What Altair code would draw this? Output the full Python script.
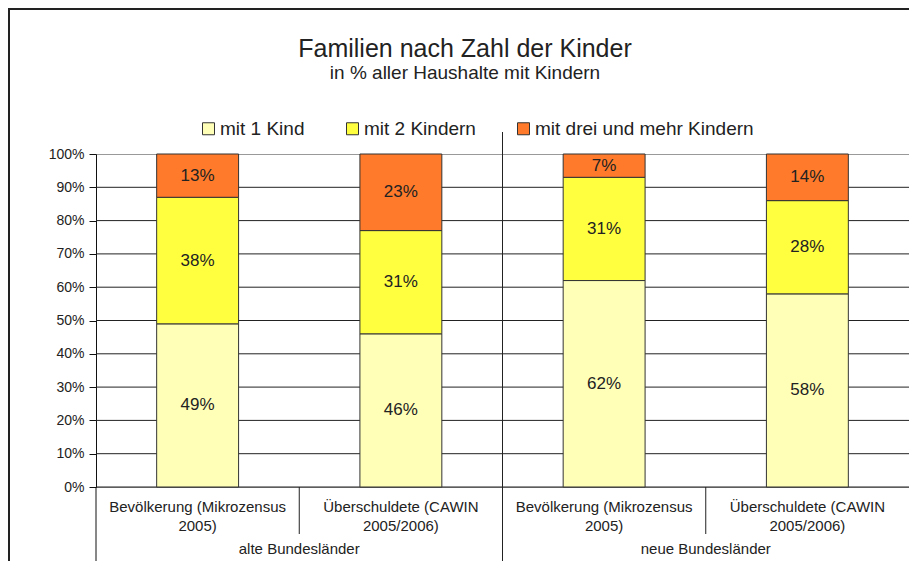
import altair as alt
import pandas as pd

FONT = "Liberation Sans"

# ---- data ----
group_labels = ["alte Bundesländer", "neue Bundesländer"]
group_pos = [1, 3]
cat_keys = ["alt_bev", "alt_ueb", "neu_bev", "neu_ueb"]
cat_labels = [
    "Bevölkerung (Mikrozensus\n2005)",
    "Überschuldete (CAWIN\n2005/2006)",
    "Bevölkerung (Mikrozensus\n2005)",
    "Überschuldete (CAWIN\n2005/2006)",
]
series = ["mit 1 Kind", "mit 2 Kindern", "mit drei und mehr Kindern"]
kind1 = [49, 46, 62, 58]
kind2 = [38, 31, 31, 28]
kind3 = [13, 23, 7, 14]
colors = ["#FFFFB8", "#FFFF40", "#FF7A2A"]
y_ticks = [0, 0.1, 0.2, 0.3, 0.4, 0.5, 0.6, 0.7, 0.8, 0.9, 1.0]
grid_vals = [0, 0.1, 0.2, 0.3, 0.4, 0.5, 0.6, 0.7, 0.8, 0.9]
title_text = ["Familien nach Zahl der Kinder"]
subtitle_text = ["in % aller Haushalte mit Kindern"]

rows = []
for i, c in enumerate(cat_keys):
    cum = 0
    for j, (s, vals) in enumerate(zip(series, [kind1, kind2, kind3])):
        v = vals[i]
        rows.append({"cat": c, "series": s, "order": j, "frac": v / 100,
                     "mid": (cum + v / 2) / 100, "label": f"{v}%"})
        cum += v
df = pd.DataFrame(rows)
df_cat = pd.DataFrame({"cat": cat_keys, "label": cat_labels})
df_grp = pd.DataFrame({"pos": group_pos, "label": group_labels})

band = alt.Scale(domain=cat_keys, paddingInner=0.597, paddingOuter=0.2985)
yscale = alt.Scale(domain=[0, 1], nice=False, zero=True)
qx = alt.Scale(domain=[0, 4], nice=False, zero=False)
xcat = alt.X("cat:N", sort=cat_keys, scale=band, axis=None)

yaxis = alt.Axis(values=y_ticks, format=".0%", title=None, grid=False,
                 tickSize=7, tickColor="#111", domainColor="#111",
                 labelFont=FONT, labelFontSize=14, labelColor="#222",
                 labelPadding=5)

frame = alt.Chart(pd.DataFrame({"a": [0]})).mark_rect(
    filled=False, stroke="#222", strokeWidth=2
).encode(x=alt.value(-87), x2=alt.value(835), y=alt.value(-145), y2=alt.value(440))

grid = alt.Chart(pd.DataFrame({"g": grid_vals})).mark_rule(
    color="#222", strokeWidth=1
).encode(y=alt.Y("g:Q", scale=yscale, axis=yaxis))

bars = alt.Chart(df).mark_bar(stroke="#333", strokeWidth=1).encode(
    x=xcat,
    y=alt.Y("frac:Q", stack="zero", scale=yscale, axis=yaxis),
    color=alt.Color("series:N", scale=alt.Scale(domain=series, range=colors),
                    legend=alt.Legend(title=None, orient="none", legendX=103, legendY=-35,
                                      direction="horizontal", symbolType="square",
                                      symbolSize=144, symbolStrokeColor="#333",
                                      symbolStrokeWidth=1, labelFont=FONT,
                                      labelFontSize=19, labelColor="#222",
                                      labelOffset=2, columnPadding=38,
                                      labelLimit=400, padding=0)),
    order=alt.Order("order:Q"),
)

vlabels = alt.Chart(df).mark_text(font=FONT, fontSize=17, color="#222").encode(
    x=xcat,
    y=alt.Y("mid:Q", scale=yscale, axis=yaxis),
    text="label:N",
)

catlabels = alt.Chart(df_cat).mark_text(
    font=FONT, fontSize=15, color="#222", lineBreak="\n", lineHeight=19, baseline="middle"
).encode(x=xcat, y=alt.value(353), text="label:N")

grplabels = alt.Chart(df_grp).mark_text(
    font=FONT, fontSize=15, color="#222", baseline="middle"
).encode(x=alt.X("pos:Q", scale=qx, axis=None), y=alt.value(395), text="label:N")

seps = alt.Chart(pd.DataFrame({"p": [1, 3]})).mark_rule(color="#222").encode(
    x=alt.X("p:Q", scale=qx, axis=None), y=alt.value(333), y2=alt.value(380))
divider = alt.Chart(pd.DataFrame({"p": [2]})).mark_rule(color="#222").encode(
    x=alt.X("p:Q", scale=qx, axis=None), y=alt.value(-22), y2=alt.value(430))
leftline = alt.Chart(pd.DataFrame({"p": [0]})).mark_rule(color="#111").encode(
    x=alt.X("p:Q", scale=qx, axis=None), y=alt.value(333), y2=alt.value(430))

title = alt.Chart(pd.DataFrame({"t": title_text})).mark_text(
    font=FONT, fontSize=25, color="#222", baseline="alphabetic"
).encode(x=alt.value(369), y=alt.value(-97), text="t:N")
subtitle = alt.Chart(pd.DataFrame({"t": subtitle_text})).mark_text(
    font=FONT, fontSize=19, color="#222", baseline="alphabetic"
).encode(x=alt.value(369), y=alt.value(-75), text="t:N")

chart = alt.layer(
    frame, grid, bars, vlabels, catlabels, grplabels, seps, divider, leftline, title, subtitle
).resolve_scale(x="independent").properties(
    width=813, height=333,
    padding={"left": 88, "top": 146, "right": 0, "bottom": 74},
    autosize=alt.AutoSizeParams(type="none"),
    background="white",
).configure_view(stroke="#999", strokeWidth=1)

chart.save("out.html", embed_options={"renderer": "svg", "actions": False})
